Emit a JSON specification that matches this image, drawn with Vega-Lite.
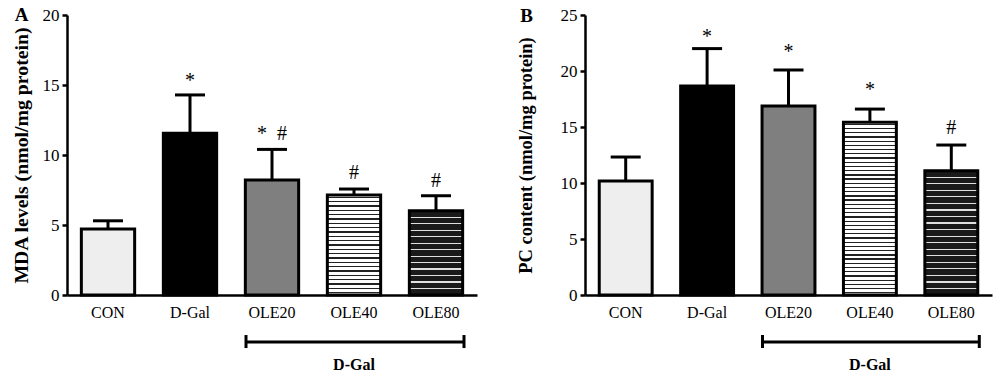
{
  "$schema": "https://vega.github.io/schema/vega-lite/v6.json",
  "padding": {"top": 6, "left": 10, "right": 5, "bottom": 5},
  "background": "white",
  "config": {
    "view": {"stroke": null},
    "font": "Liberation Serif",
    "axis": {
      "domainColor": "black", "domainWidth": 2.5, "tickColor": "black", "tickWidth": 2.5,
      "labelColor": "black", "titleColor": "black", "labelFont": "Liberation Serif", "titleFont": "Liberation Serif",
      "labelFontSize": 16, "titleFontSize": 18, "titleFontWeight": "bold", "grid": false
    },
    "axisX": {"ticks": false, "labelAngle": 0, "labelPadding": 9},
    "axisY": {"tickSize": 5, "labelPadding": 3, "labelFontSize": 17}
  },
  "datasets": {
    "mda": [
      {"group": "CON", "mean": 4.71, "upper": 5.3, "sig": null, "sig_y": null},
      {"group": "D-Gal", "mean": 11.55, "upper": 14.29, "sig": "*", "sig_y": 14.88},
      {"group": "OLE20", "mean": 8.21, "upper": 10.4, "sig": "*\u00a0\u00a0#", "sig_y": 11.09},
      {"group": "OLE40", "mean": 7.14, "upper": 7.57, "sig": "#", "sig_y": 8.3},
      {"group": "OLE80", "mean": 6.02, "upper": 7.09, "sig": "#", "sig_y": 7.73}
    ],
    "pc": [
      {"group": "CON", "mean": 10.18, "upper": 12.32, "sig": null, "sig_y": null},
      {"group": "D-Gal", "mean": 18.66, "upper": 22.0, "sig": "*", "sig_y": 22.53},
      {"group": "OLE20", "mean": 16.88, "upper": 20.09, "sig": "*", "sig_y": 21.19},
      {"group": "OLE40", "mean": 15.42, "upper": 16.6, "sig": "*", "sig_y": 17.79},
      {"group": "OLE80", "mean": 11.1, "upper": 13.39, "sig": "#", "sig_y": 14.39}
    ],
    "bracket": [
      {"from": "OLE20", "to": "OLE80", "mid": "OLE40", "label": "D-Gal"}
    ],
    "panelA": [{"panel": "A", "anchor": "CON"}],
    "panelB": [{"panel": "B", "anchor": "CON"}]
  },
  "spacing": 38,
  "hconcat": [
    {
      "width": 410,
      "height": 280,
      "layer": [
        {
          "data": {"name": "mda"},
          "mark": {"type": "rule", "strokeWidth": 3, "color": "black"},
          "encoding": {
            "x": {"field": "group", "type": "nominal", "title": null, "scale": {"domain": ["CON", "D-Gal", "OLE20", "OLE40", "OLE80"], "paddingInner": 0.35, "paddingOuter": 0.175}},
            "y": {"field": "mean", "type": "quantitative", "title": "MDA levels (nmol/mg protein)", "scale": {"domain": [0, 20], "nice": false}, "axis": {"values": [0, 5, 10, 15, 20], "titlePadding": 11, "titleFontSize": 19.8}},
            "y2": {"field": "upper"}
          }
        },
        {
          "data": {"name": "mda"},
          "mark": {"type": "bar", "stroke": "black", "strokeWidth": 3},
          "encoding": {
            "x": {"field": "group", "type": "nominal", "title": null},
            "y": {"field": "mean", "type": "quantitative", "title": "MDA levels (nmol/mg protein)"},
            "color": {
              "condition": [
                {"test": "datum.group === 'OLE40'", "value": {"gradient": "linear", "x1": 0, "y1": 0, "x2": 0, "y2": 1, "stops": [
                  {"offset":0.015,"color":"#fff"},{"offset":0.015,"color":"#222"},{"offset":0.028,"color":"#222"},{"offset":0.028,"color":"#fff"},
                  {"offset":0.0585,"color":"#fff"},{"offset":0.0585,"color":"#222"},{"offset":0.0715,"color":"#222"},{"offset":0.0715,"color":"#fff"},
                  {"offset":0.102,"color":"#fff"},{"offset":0.102,"color":"#222"},{"offset":0.115,"color":"#222"},{"offset":0.115,"color":"#fff"},
                  {"offset":0.1454,"color":"#fff"},{"offset":0.1454,"color":"#222"},{"offset":0.1584,"color":"#222"},{"offset":0.1584,"color":"#fff"},
                  {"offset":0.1889,"color":"#fff"},{"offset":0.1889,"color":"#222"},{"offset":0.2019,"color":"#222"},{"offset":0.2019,"color":"#fff"},
                  {"offset":0.2324,"color":"#fff"},{"offset":0.2324,"color":"#222"},{"offset":0.2454,"color":"#222"},{"offset":0.2454,"color":"#fff"},
                  {"offset":0.2759,"color":"#fff"},{"offset":0.2759,"color":"#222"},{"offset":0.2889,"color":"#222"},{"offset":0.2889,"color":"#fff"},
                  {"offset":0.3193,"color":"#fff"},{"offset":0.3193,"color":"#222"},{"offset":0.3323,"color":"#222"},{"offset":0.3323,"color":"#fff"},
                  {"offset":0.3628,"color":"#fff"},{"offset":0.3628,"color":"#222"},{"offset":0.3758,"color":"#222"},{"offset":0.3758,"color":"#fff"},
                  {"offset":0.4063,"color":"#fff"},{"offset":0.4063,"color":"#222"},{"offset":0.4193,"color":"#222"},{"offset":0.4193,"color":"#fff"},
                  {"offset":0.4498,"color":"#fff"},{"offset":0.4498,"color":"#222"},{"offset":0.4628,"color":"#222"},{"offset":0.4628,"color":"#fff"},
                  {"offset":0.4933,"color":"#fff"},{"offset":0.4933,"color":"#222"},{"offset":0.5063,"color":"#222"},{"offset":0.5063,"color":"#fff"},
                  {"offset":0.5367,"color":"#fff"},{"offset":0.5367,"color":"#222"},{"offset":0.5497,"color":"#222"},{"offset":0.5497,"color":"#fff"},
                  {"offset":0.5802,"color":"#fff"},{"offset":0.5802,"color":"#222"},{"offset":0.5932,"color":"#222"},{"offset":0.5932,"color":"#fff"},
                  {"offset":0.6237,"color":"#fff"},{"offset":0.6237,"color":"#222"},{"offset":0.6367,"color":"#222"},{"offset":0.6367,"color":"#fff"},
                  {"offset":0.6672,"color":"#fff"},{"offset":0.6672,"color":"#222"},{"offset":0.6802,"color":"#222"},{"offset":0.6802,"color":"#fff"},
                  {"offset":0.7107,"color":"#fff"},{"offset":0.7107,"color":"#222"},{"offset":0.7237,"color":"#222"},{"offset":0.7237,"color":"#fff"},
                  {"offset":0.7541,"color":"#fff"},{"offset":0.7541,"color":"#222"},{"offset":0.7671,"color":"#222"},{"offset":0.7671,"color":"#fff"},
                  {"offset":0.7976,"color":"#fff"},{"offset":0.7976,"color":"#222"},{"offset":0.8106,"color":"#222"},{"offset":0.8106,"color":"#fff"},
                  {"offset":0.8411,"color":"#fff"},{"offset":0.8411,"color":"#222"},{"offset":0.8541,"color":"#222"},{"offset":0.8541,"color":"#fff"},
                  {"offset":0.8846,"color":"#fff"},{"offset":0.8846,"color":"#222"},{"offset":0.8976,"color":"#222"},{"offset":0.8976,"color":"#fff"},
                  {"offset":0.928,"color":"#fff"},{"offset":0.928,"color":"#222"},{"offset":0.941,"color":"#222"},{"offset":0.941,"color":"#fff"},
                  {"offset":0.9715,"color":"#fff"},{"offset":0.9715,"color":"#222"},{"offset":0.9845,"color":"#222"},{"offset":0.9845,"color":"#fff"}
                ]}},
                {"test": "datum.group === 'OLE80'", "value": {"gradient": "linear", "x1": 0, "y1": 0, "x2": 0, "y2": 1, "stops": [
                  {"offset":0.0699,"color":"#1a1a1a"},{"offset":0.0699,"color":"#e0e0e0"},{"offset":0.0839,"color":"#e0e0e0"},{"offset":0.0839,"color":"#1a1a1a"},
                  {"offset":0.1468,"color":"#1a1a1a"},{"offset":0.1468,"color":"#e0e0e0"},{"offset":0.1608,"color":"#e0e0e0"},{"offset":0.1608,"color":"#1a1a1a"},
                  {"offset":0.2238,"color":"#1a1a1a"},{"offset":0.2238,"color":"#e0e0e0"},{"offset":0.2378,"color":"#e0e0e0"},{"offset":0.2378,"color":"#1a1a1a"},
                  {"offset":0.3007,"color":"#1a1a1a"},{"offset":0.3007,"color":"#e0e0e0"},{"offset":0.3147,"color":"#e0e0e0"},{"offset":0.3147,"color":"#1a1a1a"},
                  {"offset":0.3776,"color":"#1a1a1a"},{"offset":0.3776,"color":"#e0e0e0"},{"offset":0.3916,"color":"#e0e0e0"},{"offset":0.3916,"color":"#1a1a1a"},
                  {"offset":0.4545,"color":"#1a1a1a"},{"offset":0.4545,"color":"#e0e0e0"},{"offset":0.4685,"color":"#e0e0e0"},{"offset":0.4685,"color":"#1a1a1a"},
                  {"offset":0.5315,"color":"#1a1a1a"},{"offset":0.5315,"color":"#e0e0e0"},{"offset":0.5455,"color":"#e0e0e0"},{"offset":0.5455,"color":"#1a1a1a"},
                  {"offset":0.6084,"color":"#1a1a1a"},{"offset":0.6084,"color":"#e0e0e0"},{"offset":0.6224,"color":"#e0e0e0"},{"offset":0.6224,"color":"#1a1a1a"},
                  {"offset":0.6853,"color":"#1a1a1a"},{"offset":0.6853,"color":"#e0e0e0"},{"offset":0.6993,"color":"#e0e0e0"},{"offset":0.6993,"color":"#1a1a1a"},
                  {"offset":0.7622,"color":"#1a1a1a"},{"offset":0.7622,"color":"#e0e0e0"},{"offset":0.7762,"color":"#e0e0e0"},{"offset":0.7762,"color":"#1a1a1a"},
                  {"offset":0.8392,"color":"#1a1a1a"},{"offset":0.8392,"color":"#e0e0e0"},{"offset":0.8532,"color":"#e0e0e0"},{"offset":0.8532,"color":"#1a1a1a"},
                  {"offset":0.9161,"color":"#1a1a1a"},{"offset":0.9161,"color":"#e0e0e0"},{"offset":0.9301,"color":"#e0e0e0"},{"offset":0.9301,"color":"#1a1a1a"}
                ]}}
              ],
              "field": "group", "type": "nominal", "scale": {"domain": ["CON", "D-Gal", "OLE20", "OLE40", "OLE80"], "range": ["#eeeeee", "#000000", "#7f7f7f", "#b8b8b8", "#3c3c3c"]}, "legend": null}
          }
        },
        {
          "data": {"name": "mda"},
          "mark": {"type": "tick", "orient": "horizontal", "size": 30, "thickness": 3, "color": "black", "opacity": 1},
          "encoding": {
            "x": {"field": "group", "type": "nominal", "title": null},
            "y": {"field": "upper", "type": "quantitative", "title": "MDA levels (nmol/mg protein)"}
          }
        },
        {
          "data": {"name": "mda"},
          "mark": {"type": "text", "fontSize": 20, "font": "Liberation Serif", "baseline": "alphabetic", "color": "black"},
          "encoding": {
            "x": {"field": "group", "type": "nominal", "title": null},
            "y": {"field": "sig_y", "type": "quantitative", "title": "MDA levels (nmol/mg protein)"},
            "text": {"field": "sig"}
          }
        },
        {
          "data": {"name": "panelA"},
          "mark": {"type": "text", "fontSize": 19, "fontWeight": "bold", "font": "Liberation Serif", "baseline": "alphabetic", "align": "center", "color": "black"},
          "encoding": {
            "x": {"field": "anchor", "type": "nominal", "title": null, "bandPosition": -1.12},
            "y": {"datum": 19.57, "type": "quantitative", "title": "MDA levels (nmol/mg protein)"},
            "text": {"field": "panel"}
          }
        },
        {
          "data": {"name": "bracket"},
          "mark": {"type": "rule", "strokeWidth": 3, "color": "black", "xOffset": -26, "x2Offset": 28},
          "encoding": {
            "x": {"field": "from", "type": "nominal", "title": null},
            "x2": {"field": "to"},
            "y": {"datum": -3.36, "type": "quantitative", "title": "MDA levels (nmol/mg protein)"}
          }
        },
        {
          "data": {"name": "bracket"},
          "mark": {"type": "rule", "strokeWidth": 3, "color": "black", "xOffset": -26},
          "encoding": {
            "x": {"field": "from", "type": "nominal", "title": null},
            "y": {"datum": -2.86, "type": "quantitative", "title": "MDA levels (nmol/mg protein)"},
            "y2": {"datum": -3.79}
          }
        },
        {
          "data": {"name": "bracket"},
          "mark": {"type": "rule", "strokeWidth": 3, "color": "black", "xOffset": 28},
          "encoding": {
            "x": {"field": "to", "type": "nominal", "title": null},
            "y": {"datum": -2.86, "type": "quantitative", "title": "MDA levels (nmol/mg protein)"},
            "y2": {"datum": -3.79}
          }
        },
        {
          "data": {"name": "bracket"},
          "mark": {"type": "text", "fontSize": 16, "fontWeight": "bold", "font": "Liberation Serif", "baseline": "middle", "color": "black"},
          "encoding": {
            "x": {"field": "mid", "type": "nominal", "title": null},
            "y": {"datum": -5.0, "type": "quantitative", "title": "MDA levels (nmol/mg protein)"},
            "text": {"field": "label"}
          }
        }
      ]
    },
    {
      "width": 407,
      "height": 280,
      "layer": [
        {
          "data": {"name": "pc"},
          "mark": {"type": "rule", "strokeWidth": 3, "color": "black"},
          "encoding": {
            "x": {"field": "group", "type": "nominal", "title": null, "scale": {"domain": ["CON", "D-Gal", "OLE20", "OLE40", "OLE80"], "paddingInner": 0.35, "paddingOuter": 0.175}},
            "y": {"field": "mean", "type": "quantitative", "title": "PC content (nmol/mg protein)", "scale": {"domain": [0, 25], "nice": false}, "axis": {"values": [0, 5, 10, 15, 20, 25], "titlePadding": 25, "titleFontSize": 18.5}},
            "y2": {"field": "upper"}
          }
        },
        {
          "data": {"name": "pc"},
          "mark": {"type": "bar", "stroke": "black", "strokeWidth": 3},
          "encoding": {
            "x": {"field": "group", "type": "nominal", "title": null},
            "y": {"field": "mean", "type": "quantitative", "title": "PC content (nmol/mg protein)"},
            "color": {
              "condition": [
                {"test": "datum.group === 'OLE40'", "value": {"gradient": "linear", "x1": 0, "y1": 0, "x2": 0, "y2": 1, "stops": [
                  {"offset":0.008,"color":"#fff"},{"offset":0.008,"color":"#222"},{"offset":0.0155,"color":"#222"},{"offset":0.0155,"color":"#fff"},
                  {"offset":0.0324,"color":"#fff"},{"offset":0.0324,"color":"#222"},{"offset":0.0399,"color":"#222"},{"offset":0.0399,"color":"#fff"},
                  {"offset":0.0568,"color":"#fff"},{"offset":0.0568,"color":"#222"},{"offset":0.0643,"color":"#222"},{"offset":0.0643,"color":"#fff"},
                  {"offset":0.0812,"color":"#fff"},{"offset":0.0812,"color":"#222"},{"offset":0.0887,"color":"#222"},{"offset":0.0887,"color":"#fff"},
                  {"offset":0.1056,"color":"#fff"},{"offset":0.1056,"color":"#222"},{"offset":0.1131,"color":"#222"},{"offset":0.1131,"color":"#fff"},
                  {"offset":0.13,"color":"#fff"},{"offset":0.13,"color":"#222"},{"offset":0.1375,"color":"#222"},{"offset":0.1375,"color":"#fff"},
                  {"offset":0.1543,"color":"#fff"},{"offset":0.1543,"color":"#222"},{"offset":0.1618,"color":"#222"},{"offset":0.1618,"color":"#fff"},
                  {"offset":0.1787,"color":"#fff"},{"offset":0.1787,"color":"#222"},{"offset":0.1862,"color":"#222"},{"offset":0.1862,"color":"#fff"},
                  {"offset":0.2031,"color":"#fff"},{"offset":0.2031,"color":"#222"},{"offset":0.2106,"color":"#222"},{"offset":0.2106,"color":"#fff"},
                  {"offset":0.2275,"color":"#fff"},{"offset":0.2275,"color":"#222"},{"offset":0.235,"color":"#222"},{"offset":0.235,"color":"#fff"},
                  {"offset":0.2519,"color":"#fff"},{"offset":0.2519,"color":"#222"},{"offset":0.2594,"color":"#222"},{"offset":0.2594,"color":"#fff"},
                  {"offset":0.2763,"color":"#fff"},{"offset":0.2763,"color":"#222"},{"offset":0.2838,"color":"#222"},{"offset":0.2838,"color":"#fff"},
                  {"offset":0.3007,"color":"#fff"},{"offset":0.3007,"color":"#222"},{"offset":0.3082,"color":"#222"},{"offset":0.3082,"color":"#fff"},
                  {"offset":0.3251,"color":"#fff"},{"offset":0.3251,"color":"#222"},{"offset":0.3326,"color":"#222"},{"offset":0.3326,"color":"#fff"},
                  {"offset":0.3495,"color":"#fff"},{"offset":0.3495,"color":"#222"},{"offset":0.357,"color":"#222"},{"offset":0.357,"color":"#fff"},
                  {"offset":0.3739,"color":"#fff"},{"offset":0.3739,"color":"#222"},{"offset":0.3814,"color":"#222"},{"offset":0.3814,"color":"#fff"},
                  {"offset":0.3982,"color":"#fff"},{"offset":0.3982,"color":"#222"},{"offset":0.4057,"color":"#222"},{"offset":0.4057,"color":"#fff"},
                  {"offset":0.4226,"color":"#fff"},{"offset":0.4226,"color":"#222"},{"offset":0.4301,"color":"#222"},{"offset":0.4301,"color":"#fff"},
                  {"offset":0.447,"color":"#fff"},{"offset":0.447,"color":"#222"},{"offset":0.4545,"color":"#222"},{"offset":0.4545,"color":"#fff"},
                  {"offset":0.4714,"color":"#fff"},{"offset":0.4714,"color":"#222"},{"offset":0.4789,"color":"#222"},{"offset":0.4789,"color":"#fff"},
                  {"offset":0.4958,"color":"#fff"},{"offset":0.4958,"color":"#222"},{"offset":0.5033,"color":"#222"},{"offset":0.5033,"color":"#fff"},
                  {"offset":0.5202,"color":"#fff"},{"offset":0.5202,"color":"#222"},{"offset":0.5277,"color":"#222"},{"offset":0.5277,"color":"#fff"},
                  {"offset":0.5446,"color":"#fff"},{"offset":0.5446,"color":"#222"},{"offset":0.5521,"color":"#222"},{"offset":0.5521,"color":"#fff"},
                  {"offset":0.569,"color":"#fff"},{"offset":0.569,"color":"#222"},{"offset":0.5765,"color":"#222"},{"offset":0.5765,"color":"#fff"},
                  {"offset":0.5934,"color":"#fff"},{"offset":0.5934,"color":"#222"},{"offset":0.6009,"color":"#222"},{"offset":0.6009,"color":"#fff"},
                  {"offset":0.6178,"color":"#fff"},{"offset":0.6178,"color":"#222"},{"offset":0.6253,"color":"#222"},{"offset":0.6253,"color":"#fff"},
                  {"offset":0.6421,"color":"#fff"},{"offset":0.6421,"color":"#222"},{"offset":0.6496,"color":"#222"},{"offset":0.6496,"color":"#fff"},
                  {"offset":0.6665,"color":"#fff"},{"offset":0.6665,"color":"#222"},{"offset":0.674,"color":"#222"},{"offset":0.674,"color":"#fff"},
                  {"offset":0.6909,"color":"#fff"},{"offset":0.6909,"color":"#222"},{"offset":0.6984,"color":"#222"},{"offset":0.6984,"color":"#fff"},
                  {"offset":0.7153,"color":"#fff"},{"offset":0.7153,"color":"#222"},{"offset":0.7228,"color":"#222"},{"offset":0.7228,"color":"#fff"},
                  {"offset":0.7397,"color":"#fff"},{"offset":0.7397,"color":"#222"},{"offset":0.7472,"color":"#222"},{"offset":0.7472,"color":"#fff"},
                  {"offset":0.7641,"color":"#fff"},{"offset":0.7641,"color":"#222"},{"offset":0.7716,"color":"#222"},{"offset":0.7716,"color":"#fff"},
                  {"offset":0.7885,"color":"#fff"},{"offset":0.7885,"color":"#222"},{"offset":0.796,"color":"#222"},{"offset":0.796,"color":"#fff"},
                  {"offset":0.8129,"color":"#fff"},{"offset":0.8129,"color":"#222"},{"offset":0.8204,"color":"#222"},{"offset":0.8204,"color":"#fff"},
                  {"offset":0.8373,"color":"#fff"},{"offset":0.8373,"color":"#222"},{"offset":0.8448,"color":"#222"},{"offset":0.8448,"color":"#fff"},
                  {"offset":0.8617,"color":"#fff"},{"offset":0.8617,"color":"#222"},{"offset":0.8692,"color":"#222"},{"offset":0.8692,"color":"#fff"},
                  {"offset":0.886,"color":"#fff"},{"offset":0.886,"color":"#222"},{"offset":0.8935,"color":"#222"},{"offset":0.8935,"color":"#fff"},
                  {"offset":0.9104,"color":"#fff"},{"offset":0.9104,"color":"#222"},{"offset":0.9179,"color":"#222"},{"offset":0.9179,"color":"#fff"},
                  {"offset":0.9348,"color":"#fff"},{"offset":0.9348,"color":"#222"},{"offset":0.9423,"color":"#222"},{"offset":0.9423,"color":"#fff"},
                  {"offset":0.9592,"color":"#fff"},{"offset":0.9592,"color":"#222"},{"offset":0.9667,"color":"#222"},{"offset":0.9667,"color":"#fff"},
                  {"offset":0.9836,"color":"#fff"},{"offset":0.9836,"color":"#222"},{"offset":0.9911,"color":"#222"},{"offset":0.9911,"color":"#fff"}
                ]}},
                {"test": "datum.group === 'OLE80'", "value": {"gradient": "linear", "x1": 0, "y1": 0, "x2": 0, "y2": 1, "stops": [
                  {"offset":0.0478,"color":"#1a1a1a"},{"offset":0.0478,"color":"#e0e0e0"},{"offset":0.0574,"color":"#e0e0e0"},{"offset":0.0574,"color":"#1a1a1a"},
                  {"offset":0.1005,"color":"#1a1a1a"},{"offset":0.1005,"color":"#e0e0e0"},{"offset":0.1101,"color":"#e0e0e0"},{"offset":0.1101,"color":"#1a1a1a"},
                  {"offset":0.1531,"color":"#1a1a1a"},{"offset":0.1531,"color":"#e0e0e0"},{"offset":0.1627,"color":"#e0e0e0"},{"offset":0.1627,"color":"#1a1a1a"},
                  {"offset":0.2057,"color":"#1a1a1a"},{"offset":0.2057,"color":"#e0e0e0"},{"offset":0.2153,"color":"#e0e0e0"},{"offset":0.2153,"color":"#1a1a1a"},
                  {"offset":0.2584,"color":"#1a1a1a"},{"offset":0.2584,"color":"#e0e0e0"},{"offset":0.268,"color":"#e0e0e0"},{"offset":0.268,"color":"#1a1a1a"},
                  {"offset":0.311,"color":"#1a1a1a"},{"offset":0.311,"color":"#e0e0e0"},{"offset":0.3206,"color":"#e0e0e0"},{"offset":0.3206,"color":"#1a1a1a"},
                  {"offset":0.3636,"color":"#1a1a1a"},{"offset":0.3636,"color":"#e0e0e0"},{"offset":0.3732,"color":"#e0e0e0"},{"offset":0.3732,"color":"#1a1a1a"},
                  {"offset":0.4163,"color":"#1a1a1a"},{"offset":0.4163,"color":"#e0e0e0"},{"offset":0.4259,"color":"#e0e0e0"},{"offset":0.4259,"color":"#1a1a1a"},
                  {"offset":0.4689,"color":"#1a1a1a"},{"offset":0.4689,"color":"#e0e0e0"},{"offset":0.4785,"color":"#e0e0e0"},{"offset":0.4785,"color":"#1a1a1a"},
                  {"offset":0.5215,"color":"#1a1a1a"},{"offset":0.5215,"color":"#e0e0e0"},{"offset":0.5311,"color":"#e0e0e0"},{"offset":0.5311,"color":"#1a1a1a"},
                  {"offset":0.5741,"color":"#1a1a1a"},{"offset":0.5741,"color":"#e0e0e0"},{"offset":0.5837,"color":"#e0e0e0"},{"offset":0.5837,"color":"#1a1a1a"},
                  {"offset":0.6268,"color":"#1a1a1a"},{"offset":0.6268,"color":"#e0e0e0"},{"offset":0.6364,"color":"#e0e0e0"},{"offset":0.6364,"color":"#1a1a1a"},
                  {"offset":0.6794,"color":"#1a1a1a"},{"offset":0.6794,"color":"#e0e0e0"},{"offset":0.689,"color":"#e0e0e0"},{"offset":0.689,"color":"#1a1a1a"},
                  {"offset":0.732,"color":"#1a1a1a"},{"offset":0.732,"color":"#e0e0e0"},{"offset":0.7416,"color":"#e0e0e0"},{"offset":0.7416,"color":"#1a1a1a"},
                  {"offset":0.7847,"color":"#1a1a1a"},{"offset":0.7847,"color":"#e0e0e0"},{"offset":0.7943,"color":"#e0e0e0"},{"offset":0.7943,"color":"#1a1a1a"},
                  {"offset":0.8373,"color":"#1a1a1a"},{"offset":0.8373,"color":"#e0e0e0"},{"offset":0.8469,"color":"#e0e0e0"},{"offset":0.8469,"color":"#1a1a1a"},
                  {"offset":0.8899,"color":"#1a1a1a"},{"offset":0.8899,"color":"#e0e0e0"},{"offset":0.8995,"color":"#e0e0e0"},{"offset":0.8995,"color":"#1a1a1a"},
                  {"offset":0.9426,"color":"#1a1a1a"},{"offset":0.9426,"color":"#e0e0e0"},{"offset":0.9522,"color":"#e0e0e0"},{"offset":0.9522,"color":"#1a1a1a"}
                ]}}
              ],
              "field": "group", "type": "nominal", "scale": {"domain": ["CON", "D-Gal", "OLE20", "OLE40", "OLE80"], "range": ["#eeeeee", "#000000", "#7f7f7f", "#b8b8b8", "#3c3c3c"]}, "legend": null}
          }
        },
        {
          "data": {"name": "pc"},
          "mark": {"type": "tick", "orient": "horizontal", "size": 30, "thickness": 3, "color": "black", "opacity": 1},
          "encoding": {
            "x": {"field": "group", "type": "nominal", "title": null},
            "y": {"field": "upper", "type": "quantitative", "title": "PC content (nmol/mg protein)"}
          }
        },
        {
          "data": {"name": "pc"},
          "mark": {"type": "text", "fontSize": 20, "font": "Liberation Serif", "baseline": "alphabetic", "color": "black"},
          "encoding": {
            "x": {"field": "group", "type": "nominal", "title": null},
            "y": {"field": "sig_y", "type": "quantitative", "title": "PC content (nmol/mg protein)"},
            "text": {"field": "sig"}
          }
        },
        {
          "data": {"name": "panelB"},
          "mark": {"type": "text", "fontSize": 19, "fontWeight": "bold", "font": "Liberation Serif", "baseline": "alphabetic", "align": "center", "color": "black"},
          "encoding": {
            "x": {"field": "anchor", "type": "nominal", "title": null, "bandPosition": -1.374},
            "y": {"datum": 24.375, "type": "quantitative", "title": "PC content (nmol/mg protein)"},
            "text": {"field": "panel"}
          }
        },
        {
          "data": {"name": "bracket"},
          "mark": {"type": "rule", "strokeWidth": 3, "color": "black", "xOffset": -26, "x2Offset": 28},
          "encoding": {
            "x": {"field": "from", "type": "nominal", "title": null},
            "x2": {"field": "to"},
            "y": {"datum": -4.2, "type": "quantitative", "title": "PC content (nmol/mg protein)"}
          }
        },
        {
          "data": {"name": "bracket"},
          "mark": {"type": "rule", "strokeWidth": 3, "color": "black", "xOffset": -26},
          "encoding": {
            "x": {"field": "from", "type": "nominal", "title": null},
            "y": {"datum": -3.57, "type": "quantitative", "title": "PC content (nmol/mg protein)"},
            "y2": {"datum": -4.73}
          }
        },
        {
          "data": {"name": "bracket"},
          "mark": {"type": "rule", "strokeWidth": 3, "color": "black", "xOffset": 28},
          "encoding": {
            "x": {"field": "to", "type": "nominal", "title": null},
            "y": {"datum": -3.57, "type": "quantitative", "title": "PC content (nmol/mg protein)"},
            "y2": {"datum": -4.73}
          }
        },
        {
          "data": {"name": "bracket"},
          "mark": {"type": "text", "fontSize": 16, "fontWeight": "bold", "font": "Liberation Serif", "baseline": "middle", "color": "black"},
          "encoding": {
            "x": {"field": "mid", "type": "nominal", "title": null},
            "y": {"datum": -6.25, "type": "quantitative", "title": "PC content (nmol/mg protein)"},
            "text": {"field": "label"}
          }
        }
      ]
    }
  ]
}
